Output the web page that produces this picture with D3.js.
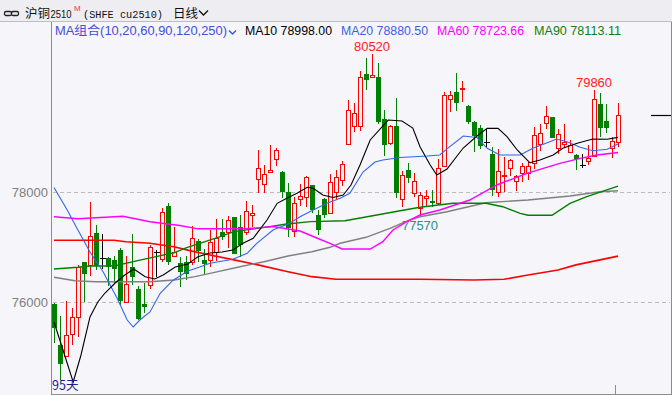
<!DOCTYPE html>
<html>
<head>
<meta charset="utf-8">
<script src="https://cdn.jsdelivr.net/npm/d3@7/dist/d3.min.js"></script>
<style>
  body { margin: 0; background: #f5f5fa; }
  svg { display: block; }
</style>
</head>
<body>
<script>
// daily candles, oldest first (95 days)
var opens = [75970,75224,75030,75418,75727,76727,76678,77255,76800,76800,76770,76951,76000,76636,76242,75969,76315,76920,76782,77751,
  76842,76720,76727,76727,77115,76770,76770,76921,77279,77273,77545,77363,77285,77588,78236,78145,78376,78600,78376,78012,
  77300,77872,77921,78135,77587,77880,77617,77999,78224,78872,79200,79212,80154,80090,80102,79333,78890,79206,77872,78406,
  77981,77721,77890,77842,77805,78481,79690,79818,79890,79569,79270,79163,78920,78693,78011,78308,78436,78211,78345,78345,
  78530,78878,79254,79370,78808,78884,78739,78687,78500,78575,78669,79611,79293,78808,78910];
var highs = [75990,75757,76024,75890,76670,76740,77818,77405,77248,76820,76850,76982,76842,77242,76300,76346,77042,76951,77709,77800,
  77375,76830,76840,77387,77150,76963,77315,77509,77509,77570,77560,77588,77842,77770,78769,78497,78860,78812,78390,78163,
  77920,78150,78300,78140,77678,77890,78333,78406,78575,79678,79630,80200,80436,80520,80345,79497,79224,79709,78388,78527,
  78345,78000,78042,78042,78600,79830,79850,80170,80024,79580,79290,79224,79150,78829,78781,78650,78610,78323,78526,78560,
  79193,79245,79569,79375,79160,79245,78955,78690,78700,78860,79860,79799,79600,79011,79617];
var lows = [75267,74588,75010,75230,75376,76011,76478,76588,76610,76300,76350,75951,76000,76315,75680,75800,76236,76466,76739,76679,
  76830,76273,76400,76678,76740,76515,76648,76758,77133,76982,76870,76830,77224,77375,77994,77994,78345,78478,77890,77182,
  77182,77760,77740,77620,77224,77527,77600,77870,78118,78870,79090,79121,79855,80085,79250,78663,78860,77891,77727,78175,
  77921,77570,77739,77739,77763,78466,79466,79480,79645,79250,78739,78781,78817,77940,77920,78005,78290,78030,78180,78230,
  78430,78750,79160,78990,78693,78800,78739,78405,78435,78490,78669,79011,79087,78626,78830];
var closes = [75527,74873,75406,75735,76640,76515,77206,76666,76800,76636,76600,76029,76327,76455,75691,75920,77000,76920,77636,76738,
  76920,76556,76509,77164,76925,76697,77091,77164,77194,77497,76879,77042,77660,77630,78436,78333,78406,78769,78000,77345,
  77805,77925,78272,77678,77315,77587,78181,78280,78512,79488,79436,80090,80045,80133,79284,78866,79206,77981,78315,78254,
  78206,77951,77939,77812,78442,79769,79769,79618,79902,79284,79020,78842,78920,78050,78380,78316,78587,78290,78472,78472,
  79050,79078,79380,78990,79054,78920,78866,78602,78500,78632,79690,79172,79172,78932,79405];

// moving averages as [day index, value]
var ma10 = [[0,75642],[1.5,75133],[3.2,74551],[4.5,75042],[6,75733],[7.3,76006],[8.5,76169],[10.2,76351],[11.8,76497],[13.3,76606],
  [15.2,76466],[16.8,76424],[18.2,76497],[20.2,76642],[22.3,76697],[24,76829],[26,76896],[28,76915],[29.8,76951],[31.5,77073],
  [33.2,77164],[35.5,77496],[37.2,77800],[38.8,77891],[40.5,77982],[42.2,78091],[43.2,78073],[44.8,77951],[46.5,77905],[48.2,77951],
  [49.5,78133],[51,78496],[52.7,78951],[55.7,79314],[58,79296],[59.8,79169],[61,78829],[62.7,78496],[63.8,78315],[65.5,78424],
  [68.2,78805],[70.5,79024],[72.2,79163],[74,79163],[75.5,79011],[77.2,78769],[79.3,78538],[81,78587],[83.2,78678],[84.8,78800],
  [87.2,78891],[89.8,78969],[92.2,78964],[94,78998]];
var ma20 = [[0,78087],[2.2,77678],[3.8,77351],[6,76915],[8.2,76551],[10.5,76078],[12.2,75678],[13.2,75551],[14.3,75678],[16,75824],
  [17.7,76164],[19.8,76397],[22.3,76569],[24.3,76642],[26,76709],[29.8,76782],[32.2,76891],[33.8,77073],[36.5,77315],[39.3,77436],
  [41,77556],[43.2,77678],[45.5,77800],[47.7,77891],[49.3,77982],[51.5,78369],[53.5,78551],[54.8,78587],[57.7,78633],[62.2,78660],
  [64.3,78678],[65.5,78790],[68.2,79024],[70.5,78996],[72.2,78800],[74.3,78678],[77.7,78678],[79.8,78800],[82.2,78902],[83.8,78969],
  [85.5,78920],[87.7,78818],[89.8,78756],[92.2,78782],[94,78880]];
var ma60 = [[0,77556],[4,77518],[11.5,77565],[16,77465],[21,77396],[24,77336],[32,77336],[36.5,77378],[41,77296],[43.8,77169],
  [46,77073],[48,76969],[52.7,76969],[54.8,77102],[56.5,77315],[58.8,77465],[61,77587],[64.3,77678],[69.3,77860],[73.8,78133],
  [78.8,78345],[84.3,78527],[87.7,78618],[90.5,78678],[94,78724]];
var ma90 = [[0,76606],[4,76636],[6,76660],[10,76660],[14.5,76771],[20,76900],[22,76990],[24.3,77070],[27.7,77193],[30,77284],
  [36,77375],[38.5,77418],[42.7,77466],[48.5,77484],[53.8,77587],[57.7,77665],[61,77727],[66.5,77800],[72,77800],[74.8,77738],
  [77.7,77618],[79,77582],[83,77582],[86,77800],[88.8,77920],[94,78113]];
var ma120 = [[0,76455],[3.5,76393],[7,76375],[16,76375],[20,76406],[23.5,76466],[26,76527],[31,76647],[35,76738],[39,76842],
  [43,76920],[46,77000],[47.7,77073],[52,77182],[56,77345],[59,77484],[61,77556],[65.5,77647],[68,77709],[72,77811],
  [79,77860],[86,77933],[91,78011],[94,78029]];
var ma250 = [[0,77127],[10,77127],[12,77102],[16,77073],[20,77011],[23,76930],[26,76860],[30,76771],[34,76680],[39,76557],
  [43,76466],[47,76418],[61,76418],[70,76406],[75,76418],[79,76497],[84,76587],[87,76680],[91,76771],[94,76840]];

var yTicks = [76000, 78000];
var maNames = ["MA10", "MA20", "MA60", "MA90"];
var maLast = ["78998.00", "78880.50", "78723.66", "78113.11"];
var highMarks = [53, 90];
var lowMarks = [61];

var W = 672, H = 395;
var svg = d3.select("body").append("svg").attr("width", W).attr("height", H);

// backgrounds
svg.append("rect").attr("width", W).attr("height", H).attr("fill", "#f5f5fa");
svg.append("rect").attr("width", W).attr("height", 21).attr("fill", "#ededf2");
svg.append("line").attr("x1", 0).attr("x2", W).attr("y1", 21.5).attr("y2", 21.5).attr("stroke", "#bdbdc6");

var x = d3.scaleLinear().domain([0, 94]).range([54, 618]);
var y = d3.scaleLinear().domain([76000, 78000]).range([302.3, 192.3]);

// frame
svg.append("line").attr("x1", 51.5).attr("x2", 51.5).attr("y1", 22).attr("y2", 394).attr("stroke", "#8c8c8c");
svg.append("line").attr("x1", 51).attr("x2", W).attr("y1", 394.5).attr("y2", 394.5).attr("stroke", "#8c8c8c");
svg.append("line").attr("x1", 671.5).attr("x2", 671.5).attr("y1", 22).attr("y2", 395).attr("stroke", "#8c8c8c");
svg.append("line").attr("x1", 615.5).attr("x2", 615.5).attr("y1", 385).attr("y2", 394).attr("stroke", "#8c8c8c");

// grid + y labels
yTicks.forEach(function(t) {
  var yy = Math.round(y(t)) + 0.5;
  svg.append("line").attr("x1", 53).attr("x2", 670).attr("y1", yy).attr("y2", yy)
    .attr("stroke", "#bcbcbc").attr("stroke-dasharray", "4,3");
  svg.append("text").attr("x", 48).attr("y", yy + 4.5).attr("text-anchor", "end")
    .attr("font-family", "Liberation Sans, Arial, sans-serif").attr("font-size", 13)
    .attr("fill", "#808080").text(t);
});

// candles
var cg = svg.append("g").attr("shape-rendering", "crispEdges");
for (var i = 0; i < opens.length; i++) {
  var cx = Math.round(x(i)) + 0.5;
  var o = opens[i], c = closes[i];
  var yH = Math.round(y(highs[i])), yL = Math.round(y(lows[i]));
  var yTop = Math.round(y(Math.max(o, c))), yBot = Math.round(y(Math.min(o, c)));
  if (c > o) {
    if (yTop > yH) cg.append("line").attr("x1", cx).attr("x2", cx).attr("y1", yH).attr("y2", yTop).attr("stroke", "#ff0000");
    if (yL > yBot) cg.append("line").attr("x1", cx).attr("x2", cx).attr("y1", yBot).attr("y2", yL).attr("stroke", "#ff0000");
    cg.append("rect").attr("x", cx - 2).attr("y", yTop + 0.5).attr("width", 4).attr("height", Math.max(1, yBot - yTop))
      .attr("fill", "none").attr("stroke", "#ff0000");
  } else if (c < o) {
    cg.append("line").attr("x1", cx).attr("x2", cx).attr("y1", yH).attr("y2", yL).attr("stroke", "#007f00");
    cg.append("rect").attr("x", cx - 2.5).attr("y", yTop).attr("width", 5).attr("height", Math.max(1, yBot - yTop))
      .attr("fill", "#007f00");
  } else {
    cg.append("line").attr("x1", cx).attr("x2", cx).attr("y1", yH).attr("y2", yL).attr("stroke", "#000");
    cg.append("line").attr("x1", cx - 3).attr("x2", cx + 3).attr("y1", yTop + 0.5).attr("y2", yTop + 0.5).attr("stroke", "#000");
  }
}

// moving average lines
var line = d3.line().x(function(d) { return x(d[0]); }).y(function(d) { return y(d[1]); });
var maSeries = [
  { data: ma250, color: "#ff0000", w: 1.6 },
  { data: ma120, color: "#808080", w: 1.4 },
  { data: ma90, color: "#008000", w: 1.4 },
  { data: ma60, color: "#ff00ff", w: 1.4 },
  { data: ma20, color: "#3366ee", w: 1.1 },
  { data: ma10, color: "#000000", w: 1.1 }
];
maSeries.forEach(function(s) {
  svg.append("path").attr("d", line(s.data)).attr("fill", "none")
    .attr("stroke", s.color).attr("stroke-width", s.w);
});

// last price marker on the right
var lastY = Math.round(y(closes[closes.length - 1])) + 0.5;
svg.append("line").attr("x1", 651).attr("x2", 671).attr("y1", lastY).attr("y2", lastY).attr("stroke", "#000").attr("stroke-width", 1.2);

// high / low marks
highMarks.forEach(function(k) {
  svg.append("text").attr("x", x(k)).attr("y", y(highs[k]) - 3).attr("text-anchor", "middle")
    .attr("font-family", "Liberation Sans, Arial, sans-serif").attr("font-size", 13)
    .attr("fill", "#ff2020").text(highs[k]);
});
lowMarks.forEach(function(k) {
  svg.append("text").attr("x", x(k)).attr("y", y(lows[k]) + 14).attr("text-anchor", "middle")
    .attr("font-family", "Liberation Sans, Arial, sans-serif").attr("font-size", 13)
    .attr("fill", "#2f8f8a").text(lows[k]);
});

// days label
svg.append("text").attr("x", 52).attr("y", 390)
  .attr("font-family", "Noto Sans CJK SC, sans-serif").attr("font-size", 12.5)
  .attr("fill", "#1c1c90").text(opens.length + "天");

// header
var hg = svg.append("g");
hg.append("rect").attr("x", 4.5).attr("y", 11.5).attr("width", 7).attr("height", 4).attr("rx", 1.5)
  .attr("fill", "none").attr("stroke", "#222").attr("stroke-width", 1.3);
hg.append("rect").attr("x", 11.5).attr("y", 11.5).attr("width", 7).attr("height", 4).attr("rx", 1.5)
  .attr("fill", "none").attr("stroke", "#222").attr("stroke-width", 1.3);
hg.append("text").attr("x", 25).attr("y", 17.5).attr("font-family", "Noto Sans CJK SC, sans-serif")
  .attr("font-size", 12.5).attr("fill", "#111").text("沪铜");
hg.append("text").attr("x", 50.5).attr("y", 17.5).attr("font-family", "Liberation Sans, Arial, sans-serif")
  .attr("font-size", 11).attr("textLength", 21).attr("lengthAdjust", "spacingAndGlyphs").attr("fill", "#111").text("2510");
hg.append("text").attr("x", 74).attr("y", 10.5).attr("font-family", "Liberation Sans, Arial, sans-serif")
  .attr("font-size", 8).attr("fill", "#ff3030").text("M");
hg.append("text").attr("x", 83).attr("y", 17.5).attr("font-family", "Liberation Mono, DejaVu Sans Mono, monospace")
  .attr("font-size", 11).attr("textLength", 80).attr("lengthAdjust", "spacingAndGlyphs").attr("fill", "#111").text("(SHFE cu2510)");
hg.append("text").attr("x", 173).attr("y", 17.5).attr("font-family", "Noto Sans CJK SC, sans-serif")
  .attr("font-size", 12.5).attr("fill", "#111").text("日线");
hg.append("path").attr("d", "M199,10.5 L203.5,15 L208,10.5").attr("fill", "none").attr("stroke", "#111").attr("stroke-width", 1.3);

// MA legend row
hg.append("text").attr("x", 55).attr("y", 35).attr("font-family", "Liberation Sans, Noto Sans CJK SC, sans-serif")
  .attr("font-size", 12.5).attr("textLength", 172).attr("lengthAdjust", "spacingAndGlyphs")
  .attr("fill", "#4050d8").text("MA组合(10,20,60,90,120,250)");
hg.append("path").attr("d", "M229,30.5 L232.5,34 L236,30.5").attr("fill", "none").attr("stroke", "#4050d8").attr("stroke-width", 1.3);
var legX = [245, 341, 437, 534];
var legColor = ["#000000", "#3d5fe0", "#ff00ff", "#108010"];
maNames.forEach(function(n, k) {
  hg.append("text").attr("x", legX[k]).attr("y", 35).attr("font-family", "Liberation Sans, Arial, sans-serif")
    .attr("font-size", 12.5).attr("textLength", 87).attr("lengthAdjust", "spacingAndGlyphs")
    .attr("fill", legColor[k]).text(n + " " + maLast[k]);
});
</script>
</body>
</html>
